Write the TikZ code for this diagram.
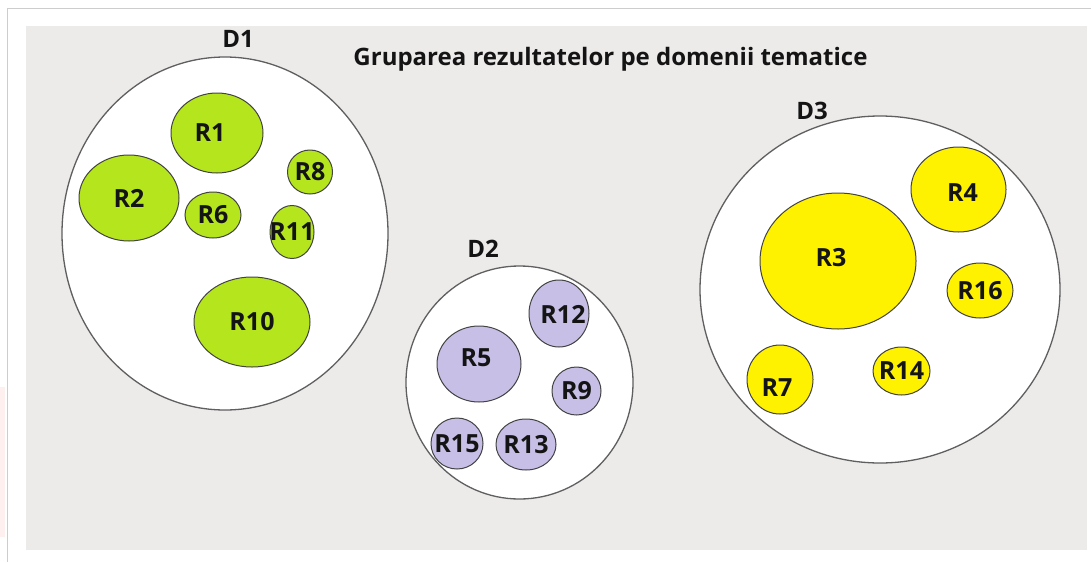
\documentclass[tikz,border=0pt]{standalone}
\usepackage{fontspec}
\setmainfont{Open Sans}
\usetikzlibrary{shapes.geometric,positioning}
\definecolor{panelgray}{RGB}{237,234,234}
\definecolor{framegray}{RGB}{205,205,205}
\definecolor{rimgray}{RGB}{95,95,95}
\definecolor{resgreen}{RGB}{181,230,29}
\definecolor{respurple}{RGB}{200,191,231}
\definecolor{resyellow}{RGB}{255,242,0}
\definecolor{inkblack}{RGB}{20,20,20}
% zero-width text so the bubble keeps its own size
\newcommand{\rtag}[1]{\makebox[0pt]{#1}}
\tikzset{
  domring/.style={ellipse, draw=rimgray, line width=1.3pt, fill=white, inner sep=0pt},
  resnode/.style={ellipse, draw=rimgray!70!black, line width=1pt, inner sep=0pt,
    text=inkblack, font=\fontsize{25}{28}\selectfont\bfseries},
  greenres/.style={resnode, fill=resgreen},
  purpleres/.style={resnode, fill=respurple},
  yellowres/.style={resnode, fill=resyellow},
  every label/.style={inner sep=0pt, text=inkblack, font=\fontsize{25}{28}\selectfont\bfseries},
  domlabel/.style={inner sep=0pt, anchor=base, text=inkblack, font=\fontsize{24}{28}\selectfont\bfseries}
}
\begin{document}
\begin{tikzpicture}[x=1pt,y=-1pt]
  \useasboundingbox (0,0) rectangle (1091,562);
  % frame and panel
  \fill[red!6] (0,387) rectangle (5,537);
  \draw[framegray, line width=1pt] (7,562) -- (7,8) -- (1091,8);
  \fill[panelgray] (26,26) rectangle (1087,550);
  \node[domlabel] (title) at (610.5,65) {Gruparea rezultatelor pe domenii tematice};

  % D1
  \node[domring, minimum width=326, minimum height=353] (d1) at (225,233.5) {};
  \node[domlabel] (d1lbl) at (238,47) {D1};
  \node[greenres, minimum width=92, minimum height=80,
    label={[xshift=-7pt]center:R1}] (r1) at (217,133) {};
  \node[greenres, minimum width=100, minimum height=86] (r2) at (129,198) {\rtag{R2}};
  \node[greenres, minimum width=56, minimum height=46] (r6) at (213,215) {\rtag{R6}};
  \node[greenres, minimum width=45, minimum height=44] (r8) at (310,172) {\rtag{R8}};
  \node[greenres, minimum width=44, minimum height=53] (r11) at (292,232) {\rtag{R11}};
  \node[greenres, minimum width=116, minimum height=90] (r10) at (252,322) {\rtag{R10}};

  % D2
  \node[domring, minimum width=227, minimum height=233] (d2) at (519.5,382.5) {};
  \node[domlabel] (d2lbl) at (483,257) {D2};
  \node[purpleres, minimum width=60, minimum height=67,
    label={[xshift=4pt, yshift=-1pt]center:R12}] (r12) at (559,313.5) {};
  \node[purpleres, minimum width=84, minimum height=76,
    label={[xshift=-3pt, yshift=6pt]center:R5}] (r5) at (479,364) {};
  \node[purpleres, minimum width=49, minimum height=48] (r9) at (576.5,391) {\rtag{R9}};
  \node[purpleres, minimum width=52, minimum height=51] (r15) at (457,443.5) {\rtag{R15}};
  \node[purpleres, minimum width=60, minimum height=51] (r13) at (526,444.5) {\rtag{R13}};

  % D3
  \node[domring, minimum width=360, minimum height=347] (d3) at (880,289.5) {};
  \node[domlabel] (d3lbl) at (812,119) {D3};
  \node[yellowres, minimum width=156, minimum height=136,
    label={[xshift=-7pt, yshift=3pt]center:R3}] (r3) at (838,261) {};
  \node[yellowres, minimum width=95, minimum height=85,
    label={[xshift=4pt, yshift=-3pt]center:R4}] (r4) at (958.5,189.5) {};
  \node[yellowres, minimum width=66, minimum height=55] (r16) at (980,290.5) {\rtag{R16}};
  \node[yellowres, minimum width=66, minimum height=69,
    label={[xshift=-3pt, yshift=-8pt]center:R7}] (r7) at (780,379.5) {};
  \node[yellowres, minimum width=57, minimum height=48] (r14) at (901.5,371) {\rtag{R14}};
\end{tikzpicture}
\end{document}
